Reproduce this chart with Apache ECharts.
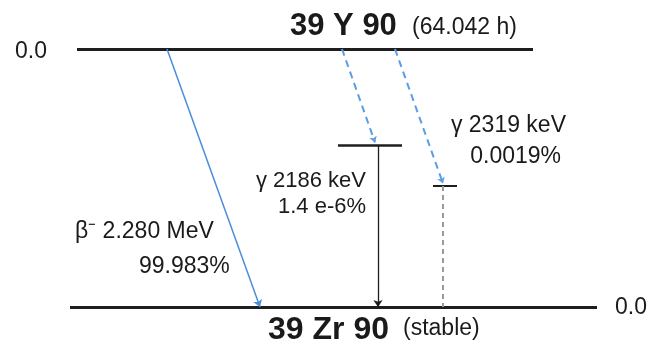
<!DOCTYPE html>
<html>
<head>
<meta charset="utf-8">
<script src="https://cdn.jsdelivr.net/npm/echarts@6/dist/echarts.min.js"></script>
<style>
  html, body { margin: 0; padding: 0; background: #fff; }
  #chart { width: 650px; height: 351px; }
</style>
</head>
<body>
<div id="chart"></div>
<script>
// Decay data: Y-90 -> Zr-90
const nuclideNames = ['39 Y 90', '39 Zr 90'];
const nuclideNotes = ['(64.042 h)', '(stable)'];
const levelEnergies = ['0.0', '0.0'];
const gammaEnergiesKeV = [2186, 2319];
const gammaIntensities = ['1.4 e-6%', '0.0019%'];
const betaEnergyMeV = 2.280;
const betaIntensity = '99.983%';

// Schematic layout (diagram units: x across, y = level height, ground = 0, parent = 100)
const yParent = 100, yGround = 0;
const yExcited = [62.8, 46.9];               // 2186 keV, 2319 keV levels
const parentSpan = [77, 533];
const groundSpan = [70, 597];
const excitedSpans = [[338, 402], [433, 457]];
const betaFrom = 167, betaTo = 260;
const feedFrom = [342, 395];
const gammaX = [378, 443];

const FONT = "'Liberation Sans', Arial, sans-serif";

function txt(x, y, text, align, size, weight) {
  return {
    value: [x, y],
    label: {
      show: true, position: 'inside', formatter: text,
      align: align, verticalAlign: 'middle',
      fontSize: size, fontWeight: weight || 'normal',
      fontFamily: FONT, color: '#1a1a1a', opacity: 1
    }
  };
}

const labels = [
  txt(290, 108.9, nuclideNames[0], 'left', 31, 'bold'),
  txt(412, 108.1, nuclideNotes[0], 'left', 23),
  txt(268, -8.9, nuclideNames[1], 'left', 32, 'bold'),
  txt(403, -8.3, nuclideNotes[1], 'left', 23),
  txt(15, 99.0, levelEnergies[0], 'left', 23),
  txt(615, -0.2, levelEnergies[1], 'left', 23),
  txt(366, 48.8, 'γ ' + gammaEnergiesKeV[0] + ' keV', 'right', 22),
  txt(366, 38.8, gammaIntensities[0], 'right', 22),
  txt(566, 70.2, 'γ ' + gammaEnergiesKeV[1] + ' keV', 'right', 23),
  txt(561, 58.3, gammaIntensities[1], 'right', 23),
  txt(75, 29.1, 'β⁻ ' + betaEnergyMeV.toFixed(3) + ' MeV', 'left', 23),
  txt(139, 15.5, betaIntensity, 'left', 23)
];

const chart = echarts.init(document.getElementById('chart'), null, { renderer: 'canvas' });
chart.setOption({
  animation: false,
  backgroundColor: '#fff',
  grid: { left: 0, right: 0, top: 0, bottom: 0 },
  xAxis: { type: 'value', min: 0, max: 650, show: false },
  yAxis: { type: 'value', min: -44 / 2.58, max: 307 / 2.58, show: false },
  series: [
    {
      // energy levels
      type: 'lines', coordinateSystem: 'cartesian2d', symbol: 'none',
      lineStyle: { color: '#1e1e1e', opacity: 1 },
      data: [
        { coords: [[parentSpan[0], yParent], [parentSpan[1], yParent]], lineStyle: { width: 3 } },
        { coords: [[groundSpan[0], yGround], [groundSpan[1], yGround]], lineStyle: { width: 3 } },
        { coords: [[excitedSpans[0][0], yExcited[0]], [excitedSpans[0][1], yExcited[0]]], lineStyle: { width: 2.5 } },
        { coords: [[excitedSpans[1][0], yExcited[1]], [excitedSpans[1][1], yExcited[1]]], lineStyle: { width: 2 } }
      ]
    },
    {
      // beta- branch to ground state
      type: 'lines', coordinateSystem: 'cartesian2d',
      symbol: ['none', 'arrow'], symbolSize: 7,
      lineStyle: { color: '#4a8ddb', width: 1.5, opacity: 1 },
      data: [{ coords: [[betaFrom, yParent], [betaTo, yGround]] }]
    },
    {
      // weak beta feeds to excited levels
      type: 'lines', coordinateSystem: 'cartesian2d',
      symbol: ['none', 'arrow'], symbolSize: 6,
      lineStyle: { color: '#5b9de6', width: 2, type: [7, 5], opacity: 1 },
      data: [
        { coords: [[feedFrom[0], yParent], [gammaX[0] - 3, yExcited[0] + 1]] },
        { coords: [[feedFrom[1], yParent], [gammaX[1], yExcited[1] + 1]] }
      ]
    },
    {
      // gamma 2186 keV
      type: 'lines', coordinateSystem: 'cartesian2d',
      symbol: ['none', 'arrow'], symbolSize: 7,
      lineStyle: { color: '#1e1e1e', width: 1.3, opacity: 1 },
      data: [{ coords: [[gammaX[0], yExcited[0]], [gammaX[0], yGround]] }]
    },
    {
      // gamma 2319 keV
      type: 'lines', coordinateSystem: 'cartesian2d', symbol: 'none',
      lineStyle: { color: '#9a9a9a', width: 2, type: [5, 4], opacity: 1 },
      data: [{ coords: [[gammaX[1], yExcited[1]], [gammaX[1], yGround]] }]
    },
    {
      type: 'scatter', symbolSize: 0, clip: false, silent: true,
      itemStyle: { opacity: 1 },
      data: labels
    }
  ]
});
</script>
</body>
</html>
